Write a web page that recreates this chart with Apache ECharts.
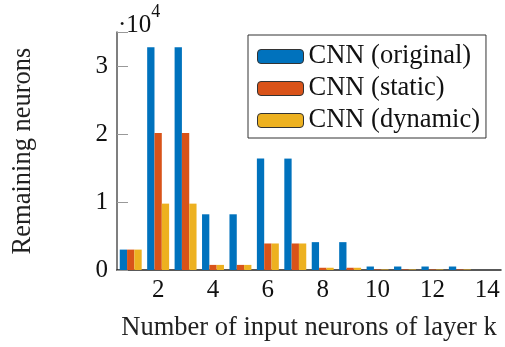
<!DOCTYPE html>
<html>
<head>
<meta charset="utf-8">
<script src="https://cdn.jsdelivr.net/npm/echarts@6/dist/echarts.min.js"></script>
<style>html,body{margin:0;padding:0;background:#fff;}#c{width:505px;height:347px;}</style>
</head>
<body>
<div id="c"></div>
<script>
const categories = ['1','2','3','4','5','6','7','8','9','10','11','12','13','14'];
const original = [3000, 32768, 32768, 8192, 8192, 16384, 16384, 4096, 4096, 512, 512, 512, 512, 0];
const staticP  = [3000, 20160, 20160, 750, 750, 3900, 3900, 330, 330, 80, 80, 80, 80, 0];
const dynamicP = [3000, 9760, 9760, 750, 750, 3900, 3900, 330, 330, 80, 80, 80, 80, 0];
const seriesNames = ['CNN (original)', 'CNN (static)', 'CNN (dynamic)'];
const colors = ['#0072BD', '#D95319', '#EDB120'];
const yTicks = [0, 10000, 20000, 30000];

const FONT = 'Liberation Serif';
const chart = echarts.init(document.getElementById('c'), null, {renderer: 'canvas'});
const showEven = (i) => i % 2 === 1;
chart.setOption({
  animation: false,
  textStyle: {fontFamily: FONT},
  grid: {left: 117, right: 4, top: 32, bottom: 75, containLabel: false},
  legend: {
    orient: 'vertical', left: 248, top: 35,
    backgroundColor: '#fff', borderColor: '#333', borderWidth: 1,
    padding: [8, 6, 4, 9], itemGap: 5,
    itemWidth: 46, itemHeight: 14,
    itemStyle: {borderColor: '#333', borderWidth: 1},
    textStyle: {fontFamily: FONT, fontSize: 26.5, color: '#111', padding: [0,0,0,0]},
    data: seriesNames
  },
  xAxis: {
    type: 'category', data: categories, boundaryGap: true,
    name: 'Number of input neurons of layer k', nameLocation: 'middle', nameGap: 45,
    nameTextStyle: {fontFamily: FONT, fontSize: 26.5, color: '#222'},
    axisLine: {lineStyle: {color: '#222', width: 1.5}},
    axisTick: {inside: true, length: 10, alignWithLabel: true, interval: showEven, lineStyle: {color: '#999', width: 1}},
    axisLabel: {interval: showEven, fontFamily: FONT, fontSize: 25, color: '#111', margin: 8}
  },
  yAxis: {
    type: 'value', min: 0, max: 35000, interval: 10000,
    name: 'Remaining neurons', nameLocation: 'middle', nameGap: 80, nameRotate: 90,
    nameTextStyle: {fontFamily: FONT, fontSize: 26.5, color: '#222'},
    splitLine: {show: false},
    axisLine: {show: true, lineStyle: {color: '#555', width: 1.5}},
    axisTick: {show: true, inside: true, length: 11, lineStyle: {color: '#999', width: 1}},
    axisLabel: {fontFamily: FONT, fontSize: 25, color: '#111', margin: 9,
      formatter: (v) => yTicks.indexOf(v) >= 0 ? String(v / 10000) : ''}
  },
  graphic: [{
    type: 'text', left: 118, top: 3,
    style: {
      text: '{a|·10}{b|4}',
      rich: {
        a: {fontFamily: FONT, fontSize: 25, fill: '#111', verticalAlign: 'bottom', padding: [10,0,0,0]},
        b: {fontFamily: FONT, fontSize: 18, fill: '#111', verticalAlign: 'top'}
      }
    }
  }],
  series: [
    {name: seriesNames[0], type: 'bar', data: original, itemStyle: {color: colors[0]}, barGap: '0%', barCategoryGap: '20%'},
    {name: seriesNames[1], type: 'bar', data: staticP, itemStyle: {color: colors[1]}, barGap: '0%', barCategoryGap: '20%'},
    {name: seriesNames[2], type: 'bar', data: dynamicP, itemStyle: {color: colors[2]}, barGap: '0%', barCategoryGap: '20%'}
  ]
});
</script>
</body>
</html>
